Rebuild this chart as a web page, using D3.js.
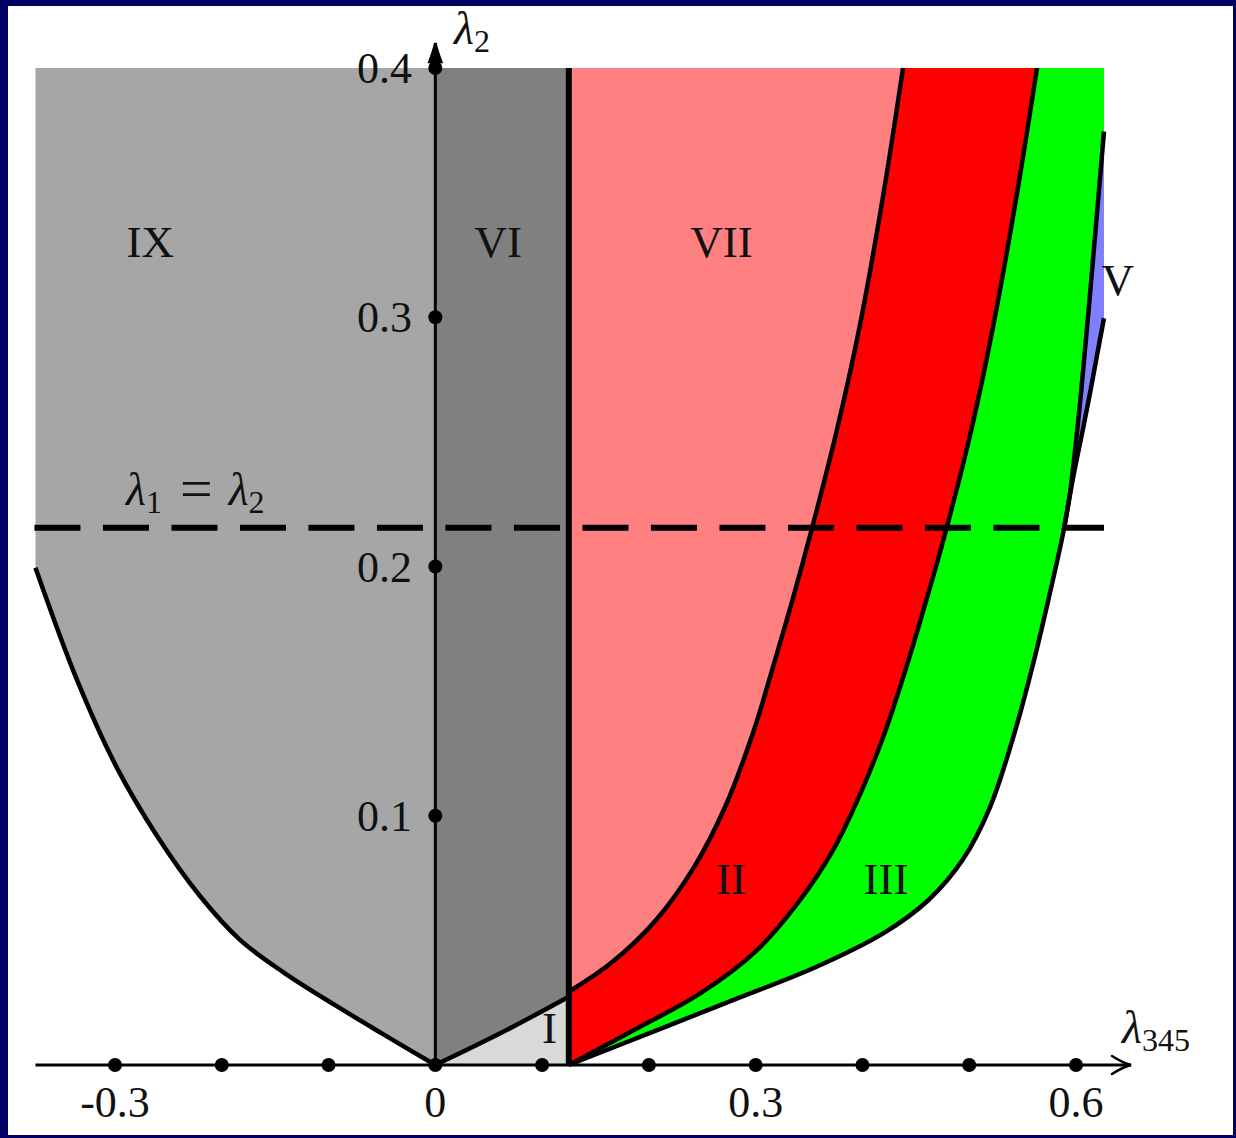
<!DOCTYPE html>
<html>
<head>
<meta charset="utf-8">
<script src="https://cdn.jsdelivr.net/npm/d3@7"></script>
<style>
  html, body { margin: 0; padding: 0; background: #000064; }
  svg { display: block; }
  text { font-family: "Liberation Serif", "DejaVu Serif", serif; fill: #111; }
</style>
</head>
<body>
<svg id="chart" width="1236" height="1138"></svg>
<script>
// ---- axis ticks ----
const xTicks = [-0.3, -0.2, -0.1, 0, 0.1, 0.2, 0.3, 0.4, 0.5, 0.6];
const xTickLabels = [["-0.3", -0.3], ["0", 0], ["0.3", 0.3], ["0.6", 0.6]];
const yTicks = [0.1, 0.2, 0.3, 0.4];
const yTickLabels = [["0.1", 0.1], ["0.2", 0.2], ["0.3", 0.3], ["0.4", 0.4]];

// ---- plotted window of the (λ345, λ2) plane ----
const lamLeft = -0.3745, lamRight = 0.6262, lamTop = 0.4;
const lamCut = 0.125;     // vertical boundary between VI and VII
const lamEqual = 0.2155;  // λ1 = λ2

// ---- region boundaries [λ345, λ2] ----
const boundaryIX = [[-0.3745, 0.1995], [-0.3358, 0.1547], [-0.2984, 0.1194], [-0.2609, 0.0921],
  [-0.2204, 0.0678], [-0.1829, 0.0502], [-0.1426, 0.0373], [-0.0958, 0.0245], [-0.0490, 0.0124], [0, 0]];
const boundaryI = [[0, 0], [0.0608, 0.0127], [0.125, 0.0274]];
const boundaryVII = [[0.125, 0.0294], [0.1645, 0.0409], [0.2067, 0.0582], [0.2423, 0.0794], [0.2713, 0.1035],
  [0.2975, 0.1332], [0.3135, 0.1557], [0.3345, 0.1866], [0.3528, 0.2154], [0.3767, 0.2559],
  [0.3973, 0.2961], [0.4198, 0.3498], [0.4380, 0.4]];
const boundaryII = [[0.125, 0], [0.1861, 0.0140], [0.2488, 0.0289], [0.3013, 0.0461], [0.3416, 0.0662],
  [0.3726, 0.0863], [0.3983, 0.1091], [0.4208, 0.1332], [0.4412, 0.1597], [0.4599, 0.1866],
  [0.4783, 0.2146], [0.5026, 0.2560], [0.5223, 0.2961], [0.5448, 0.3498], [0.5635, 0.4]];
const boundaryIII = [[0.125, 0], [0.2006, 0.0128], [0.2793, 0.0261], [0.3565, 0.0393], [0.4202, 0.0530],
  [0.4619, 0.0662], [0.4937, 0.0822], [0.5195, 0.1035], [0.5424, 0.1332], [0.5591, 0.1597],
  [0.5741, 0.1866], [0.5885, 0.2146], [0.5944, 0.2295], [0.6047, 0.2696], [0.6159, 0.3230], [0.6262, 0.3745]];
const boundaryV = [[0.5885, 0.2146], [0.5975, 0.2361], [0.6055, 0.2530], [0.6131, 0.2695],
  [0.6196, 0.2845], [0.6262, 0.2996]];

// ---- region labels ----
const regionLabels = [
  ["IX", -0.267, 0.33], ["VI", 0.059, 0.33], ["VII", 0.268, 0.33], ["V", 0.639, 0.315],
  ["II", 0.277, 0.0745], ["III", 0.422, 0.0745], ["I", 0.107, 0.015]
];

const colors = { IX: "#a6a6a6", VI: "#808080", I: "#d9d9d9", VII: "#ff8080", II: "#ff0000", III: "#00ff00", V: "#8080ff" };

const svg = d3.select("#chart");
svg.append("rect").attr("x", 8).attr("y", 6).attr("width", 1225).attr("height", 1129).attr("fill", "#fff");

const x = d3.scaleLinear().domain([-0.3, 0.6]).range([115, 1076]);
const y = d3.scaleLinear().domain([0, 0.4]).range([1065, 68]);

const line = d3.line().x(d => x(d[0])).y(d => y(d[1])).curve(d3.curveCatmullRom.alpha(0.5));
const seg = pts => line(pts);
const cont = pts => line(pts).replace(/^M/, "L");
const rev = pts => pts.slice().reverse();
const P = (a, b) => `L${x(a)},${y(b)}`;

const fills = svg.append("g");
// IX
fills.append("path").attr("fill", colors.IX)
  .attr("d", `M${x(lamLeft)},${y(lamTop)}` + P(lamLeft, boundaryIX[0][1]) + cont(boundaryIX) + P(0, lamTop) + "Z");
// VI
fills.append("path").attr("fill", colors.VI)
  .attr("d", `M${x(0)},${y(lamTop)}` + cont(boundaryI) + P(lamCut, lamTop) + "Z");
// I
fills.append("path").attr("fill", colors.I)
  .attr("d", seg(boundaryI) + P(lamCut, 0) + "Z");
// VII
fills.append("path").attr("fill", colors.VII)
  .attr("d", `M${x(lamCut)},${y(lamTop)}` + P(lamCut, boundaryVII[0][1]) + cont(boundaryVII) + "Z");
// II
fills.append("path").attr("fill", colors.II)
  .attr("d", seg(boundaryVII) + cont(rev(boundaryII)) + P(lamCut, boundaryVII[0][1]) + "Z");
// III
fills.append("path").attr("fill", colors.III)
  .attr("d", seg(boundaryII) + P(lamRight, lamTop) + P(lamRight, boundaryIII[boundaryIII.length - 1][1]) + cont(rev(boundaryIII)) + "Z");
// V
const upperIII = boundaryIII.slice(11);
fills.append("path").attr("fill", colors.V)
  .attr("d", seg(upperIII) + P(lamRight, boundaryV[boundaryV.length - 1][1]) + cont(rev(boundaryV)) + "Z");

// λ1 = λ2 dashed line
svg.append("line")
  .attr("x1", x(lamLeft) - 1).attr("x2", x(lamRight))
  .attr("y1", y(lamEqual)).attr("y2", y(lamEqual))
  .attr("stroke", "#000").attr("stroke-width", 6).attr("stroke-dasharray", "46 22.5");

// boundary curves
const curves = svg.append("g").attr("fill", "none").attr("stroke", "#000").attr("stroke-width", 4.5).attr("stroke-linecap", "butt");
[boundaryIX, boundaryI, boundaryVII, boundaryII, boundaryIII, boundaryV].forEach(c => curves.append("path").attr("d", seg(c)));

// thick vertical boundary
svg.append("line").attr("x1", x(lamCut)).attr("x2", x(lamCut)).attr("y1", y(0)).attr("y2", y(lamTop))
  .attr("stroke", "#000").attr("stroke-width", 6);

// axes
const axes = svg.append("g").attr("stroke", "#000").attr("fill", "none").attr("stroke-width", 3);
const xTip = 1131, yTip = 43;
axes.append("line").attr("x1", x(lamLeft)).attr("x2", xTip).attr("y1", y(0)).attr("y2", y(0));
axes.append("line").attr("x1", x(0)).attr("x2", x(0)).attr("y1", y(0)).attr("y2", yTip);
axes.append("path").attr("stroke-width", 2.5).attr("stroke-linecap", "round")
  .attr("d", `M${xTip - 19},${y(0) - 9} Q${xTip - 8},${y(0) - 2} ${xTip},${y(0)} Q${xTip - 8},${y(0) + 2} ${xTip - 19},${y(0) + 9}`);
axes.append("path").attr("stroke-width", 2.5).attr("stroke-linecap", "round").attr("fill", "#000")
  .attr("d", `M${x(0) - 6},${yTip + 19} Q${x(0) - 2},${yTip + 8} ${x(0)},${yTip} Q${x(0) + 2},${yTip + 8} ${x(0) + 6},${yTip + 19} Z`);

// tick dots
svg.append("g").selectAll("circle").data(xTicks).join("circle")
  .attr("cx", d => x(d)).attr("cy", y(0)).attr("r", 7).attr("fill", "#000");
svg.append("g").selectAll("circle").data(yTicks).join("circle")
  .attr("cx", x(0)).attr("cy", d => y(d)).attr("r", 7).attr("fill", "#000");

// tick labels
svg.append("g").selectAll("text").data(xTickLabels).join("text")
  .attr("x", d => x(d[1])).attr("y", 1117).attr("text-anchor", "middle").attr("font-size", 44).text(d => d[0]);
svg.append("g").selectAll("text").data(yTickLabels).join("text")
  .attr("x", 412).attr("y", d => y(d[1]) + 15).attr("text-anchor", "end").attr("font-size", 44).text(d => d[0]);

// region labels
svg.append("g").selectAll("text").data(regionLabels).join("text")
  .attr("x", d => x(d[1])).attr("y", d => y(d[2]) + 15).attr("text-anchor", "middle").attr("font-size", 45).text(d => d[0]);

// axis names
const t2 = svg.append("text").attr("x", 454).attr("y", 44).attr("font-size", 46);
t2.append("tspan").attr("font-style", "italic").text("λ");
t2.append("tspan").attr("font-size", 32).attr("dy", 8).text("2");

const t345 = svg.append("text").attr("x", 1122).attr("y", 1043).attr("font-size", 46);
t345.append("tspan").attr("font-style", "italic").text("λ");
t345.append("tspan").attr("font-size", 32).attr("dy", 8).text("345");

const teq = svg.append("text").attr("x", 126).attr("y", 505).attr("font-size", 46);
teq.append("tspan").attr("font-style", "italic").text("λ");
teq.append("tspan").attr("font-size", 32).attr("dy", 8).text("1");
teq.append("tspan").attr("font-size", 58).attr("dy", -5).attr("dx", 18).text("=");
teq.append("tspan").attr("dy", -3).attr("dx", 16).attr("font-style", "italic").text("λ");
teq.append("tspan").attr("font-size", 32).attr("dy", 8).text("2");
</script>
</body>
</html>
